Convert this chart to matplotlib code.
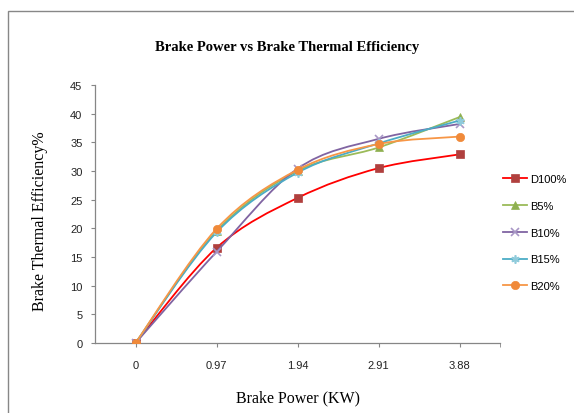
import matplotlib
matplotlib.use("Agg")
import matplotlib.pyplot as plt
import numpy as np
from matplotlib.path import Path
from matplotlib.patches import PathPatch, Rectangle
from matplotlib.lines import Line2D

# данные
brake_power = ["0", "0.97", "1.94", "2.91", "3.88"]
d100 = [0, 16.6, 25.3, 30.5, 32.9]
b5 = [0, 19.5, 30.0, 34.1, 39.4]
b10 = [0, 15.9, 30.4, 35.6, 38.2]
b15 = [0, 19.3, 29.7, 34.8, 38.8]
b20 = [0, 19.9, 30.2, 34.7, 36.0]
names = ["D100%", "B5%", "B10%", "B15%", "B20%"]

line_colors = ["#FF0000", "#9BBB59", "#8064A2", "#4BACC6", "#F79646"]
marker_colors = ["#B0403E", "#8FB050", "#A897C6", "#8FCBDB", "#F08A3A"]
markers = ["s", "^", "x", (6, 2, 0), "o"]
msizes = [6, 6, 6, 6, 6]


def smooth_path(xs, ys, t=1 / 6):
    # сглаженная линия как в Excel (кривые Безье через точки)
    n = len(xs)
    verts = [(xs[0], ys[0])]
    codes = [Path.MOVETO]
    for i in range(n - 1):
        a = max(i - 1, 0)
        b = min(i + 2, n - 1)
        c1 = (xs[i] + (xs[i + 1] - xs[a]) * t, ys[i] + (ys[i + 1] - ys[a]) * t)
        c2 = (xs[i + 1] - (xs[b] - xs[i]) * t, ys[i + 1] - (ys[b] - ys[i]) * t)
        verts += [c1, c2, (xs[i + 1], ys[i + 1])]
        codes += [Path.CURVE4] * 3
    return Path(verts, codes)


fig = plt.figure(figsize=(5.74, 4.14), dpi=100)
ax = fig.add_axes([95 / 574, 70 / 414, 405 / 574, 258 / 414])

x = np.arange(len(brake_power))
series = [d100, b5, b10, b15, b20]
handles = []
for i, ys in enumerate(series):
    ax.add_patch(PathPatch(smooth_path(x, ys), fill=False,
                           edgecolor=line_colors[i], lw=1.3, zorder=2 + i))
    mk = markers[i]
    filled = mk not in ("x", (6, 2, 0))
    ax.plot(x, ys, linestyle="none", marker=mk, ms=msizes[i],
            markerfacecolor=marker_colors[i], markeredgecolor=marker_colors[i],
            markeredgewidth=1.2 if not filled else 0.5, zorder=3 + i)
    handles.append(Line2D([], [], color=line_colors[i], lw=1.3, marker=mk,
                          ms=msizes[i], markerfacecolor=marker_colors[i],
                          markeredgecolor=marker_colors[i],
                          markeredgewidth=1.2 if not filled else 0.5))

ax.set_xlim(-0.5, 4.5)
ax.set_ylim(0, 45)
ax.set_xticks(x)
ax.set_xticklabels(brake_power)
ax.set_xticks([4.5], minor=True)
ax.set_yticks(np.arange(0, 46, 5))

for s in ["top", "right"]:
    ax.spines[s].set_visible(False)
for s in ["left", "bottom"]:
    ax.spines[s].set_color("#868686")
    ax.spines[s].set_linewidth(0.9)

ax.tick_params(axis="both", which="both", direction="out", length=3,
               color="#868686", labelsize=8, labelcolor="#222222",
               labelfontfamily="Liberation Sans")
ax.tick_params(axis="x", which="both", pad=9)
ax.tick_params(axis="y", pad=6)

ax.set_xlabel("Brake Power (KW)", family="Liberation Serif", fontsize=11.5, va="center")
ax.xaxis.set_label_coords(0.5, -0.209)
ax.set_ylabel("Brake Thermal Efficiency%", family="Liberation Serif", fontsize=11.5, va="center")
ax.yaxis.set_label_coords(-0.136, 0.477)

fig.text(287 / 574, 1 - 47 / 414, "Brake Power vs Brake Thermal Efficiency",
         family="Liberation Serif", weight="bold", fontsize=10.5,
         ha="center", va="center")

fig.legend(handles, names, loc="upper left", bbox_to_anchor=(495 / 574, 1 - 167 / 414),
           frameon=False, prop={"family": "Liberation Sans", "size": 8},
           handlelength=2.2, handletextpad=0.3, labelspacing=1.52, borderpad=0.2)

# рамка области диаграммы
fig.add_artist(Rectangle((8 / 574, -0.1), 1.2, 1.1 - 12 / 414,
                         transform=fig.transFigure, fill=False,
                         edgecolor="#878787", lw=1.0))

fig.savefig("out.png", dpi=100)
